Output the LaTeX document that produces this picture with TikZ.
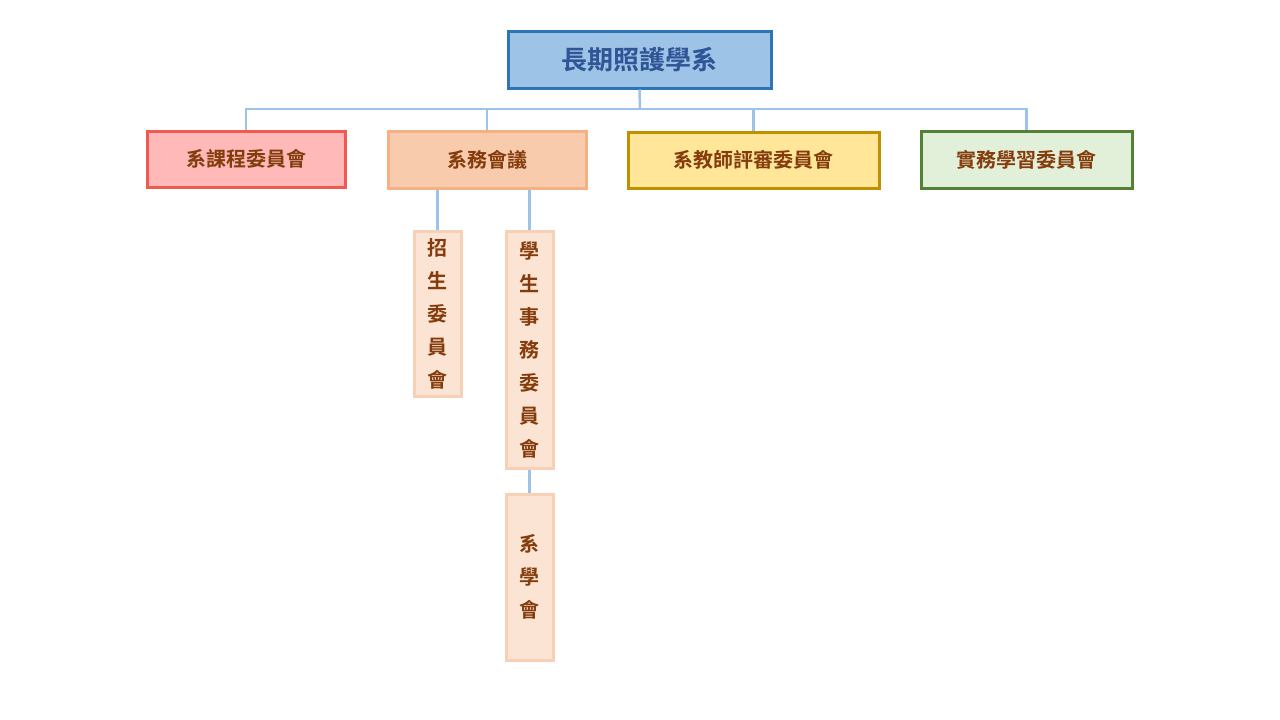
\documentclass[tikz,border=0pt]{standalone}
\usepackage{fontspec}
\newfontfamily\cjk{Noto Sans CJK TC Bold}
\definecolor{lnblue}{HTML}{9DC3E6}
\definecolor{brn}{HTML}{843C0C}
\begin{document}
\begin{tikzpicture}[x=1pt,y=-1pt,
 box/.style={draw,line width=3pt,inner sep=0pt,font=\cjk\fontsize{20}{20}\selectfont,text=brn},
 vbox/.style={draw=#1!60!white,line width=3pt,inner sep=0pt,fill=#1!35!white,font=\cjk\fontsize{20}{33}\selectfont,text=brn,align=center},
 conn/.style={draw=lnblue,line width=2.5pt}]
\useasboundingbox (0,0) rectangle (1280,720);
\definecolor{pch}{HTML}{F4B183}
\node[box,minimum width=263pt,minimum height=57pt,fill=lnblue,draw=black!20!blue!50!cyan!70!black,draw={rgb,255:red,46;green,117;blue,182},text={rgb,255:red,47;green,85;blue,151},font=\cjk\fontsize{26}{26}\selectfont] (top) at (639.5,59.5) {長期照護學系};
\node[box,minimum width=198pt,minimum height=56pt,fill={rgb,255:red,255;green,185;blue,185},draw={rgb,255:red,240;green,90;blue,80}] (a) at (246,159) {系課程委員會};
\node[box,minimum width=198pt,minimum height=57pt,fill={rgb,255:red,248;green,203;blue,173},draw=pch] (b) at (487,159.5) {系務會議};
\node[box,minimum width=251pt,minimum height=56pt,fill={rgb,255:red,255;green,230;blue,153},draw={rgb,255:red,191;green,144;blue,0}] (c) at (753.5,160) {系教師評審委員會};
\node[box,minimum width=211pt,minimum height=57pt,fill={rgb,255:red,226;green,240;blue,217},draw={rgb,255:red,84;green,130;blue,53}] (d) at (1026.5,159.5) {實務學習委員會};
\node[vbox=pch,minimum width=47pt,minimum height=165pt] (e) at (437.5,313.5) {招\\生\\委\\員\\會};
\node[vbox=pch,minimum width=47pt,minimum height=237pt] (f) at (529.5,349.5) {學\\生\\事\\務\\委\\員\\會};
\node[vbox=pch,minimum width=47pt,minimum height=166pt] (g) at (529.5,577) {系\\學\\會};
\coordinate (j) at (640,109);
\begin{scope}[on background layer/.try]
\draw[conn] (top.south) -- (j);
\draw[conn] (a.north) |- (j) -| (d.north);
\draw[conn] (b.north) -- ++(0,-22);
\draw[conn] (c.north) -- ++(0,-23);
\draw[conn] (e.north) -- (e.north |- b.south);
\draw[conn] (f.north) -- (f.north |- b.south);
\draw[conn] (f.south) -- (g.north);
\end{scope}
\end{tikzpicture}
\end{document}
